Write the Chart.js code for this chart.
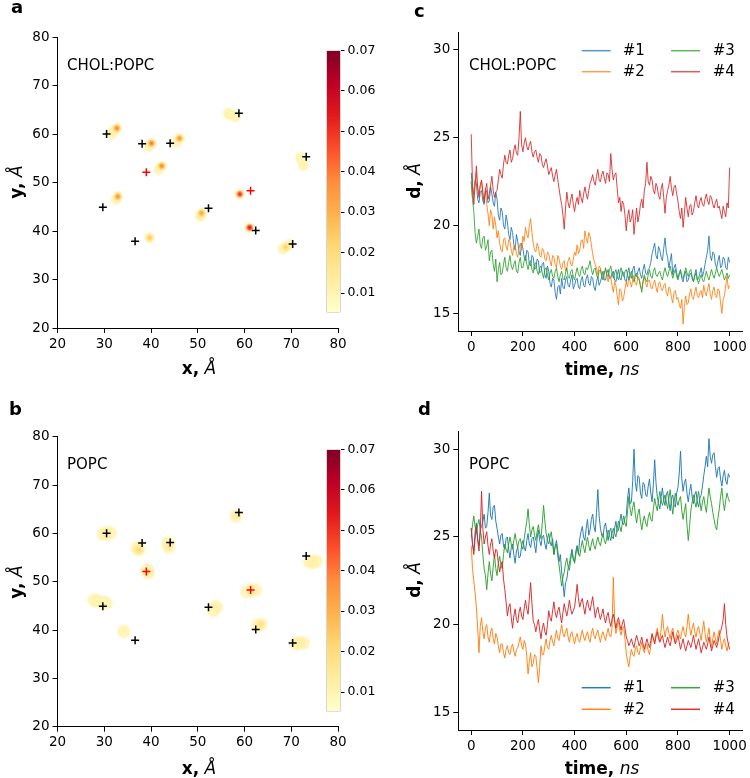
<!DOCTYPE html>
<html><head><meta charset="utf-8">
<script src="https://cdn.jsdelivr.net/npm/chart.js@4.4.0/dist/chart.umd.min.js"></script>
<style>
html,body{margin:0;padding:0;background:#fff;}
#wrap{position:relative;width:750px;height:778px;overflow:hidden;background:#fff;font-family:'DejaVu Sans',sans-serif;color:#000;}
canvas{position:absolute;}
.t{position:absolute;white-space:nowrap;line-height:1;}
.c{transform:translate(-50%,-50%);}
.r{transform:translate(-50%,-50%) rotate(-90deg);}
.lbl{font-size:18px;font-weight:bold;}
.ax{font-size:17px;}
.ax b{font-weight:bold;}
.ax i{font-style:italic;}
.in{font-size:15px;transform:translateY(-50%);}
</style></head><body>
<div id="wrap">
<canvas id="pa" width="375" height="390" style="left:0;top:0"></canvas>
<canvas id="ca" width="62" height="283" style="left:320px;top:40px"></canvas>
<canvas id="pb" width="375" height="388" style="left:0;top:390px"></canvas>
<canvas id="cb" width="62" height="283" style="left:320px;top:439px"></canvas>
<canvas id="pc" width="370" height="390" style="left:380px;top:0"></canvas>
<canvas id="pd" width="370" height="388" style="left:380px;top:390px"></canvas>

<div class="t lbl" style="left:11px;top:-2px">a</div>
<div class="t lbl" style="left:9px;top:400px">b</div>
<div class="t lbl" style="left:414px;top:2px">c</div>
<div class="t lbl" style="left:418px;top:400px">d</div>

<div class="t ax c" style="left:199px;top:368px"><b>x,</b> <i>Å</i></div>
<div class="t ax r" style="left:16px;top:182px"><b>y,</b> <i>Å</i></div>
<div class="t ax c" style="left:199px;top:768px"><b>x,</b> <i>Å</i></div>
<div class="t ax r" style="left:16px;top:582px"><b>y,</b> <i>Å</i></div>
<div class="t ax c" style="left:602px;top:369px"><b>time,</b> <i>ns</i></div>
<div class="t ax r" style="left:414px;top:181px"><b>d,</b> <i>Å</i></div>
<div class="t ax c" style="left:602px;top:768px"><b>time,</b> <i>ns</i></div>
<div class="t ax r" style="left:414px;top:580px"><b>d,</b> <i>Å</i></div>

<div class="t in" style="left:67px;top:65px">CHOL:POPC</div>
<div class="t in" style="left:67px;top:464px">POPC</div>
<div class="t in" style="left:469px;top:65px">CHOL:POPC</div>
<div class="t in" style="left:469px;top:464px">POPC</div>
</div>
<script>
// ---------------- data ----------------
const crossX = [30.5, 38.1, 44.1, 58.8, 73.2, 29.7, 52.3, 62.4, 70.3, 36.6];
const crossY = [60.0, 58.0, 58.1, 64.3, 55.3, 44.9, 44.7, 40.1, 37.3, 37.9];
const redCrossX = [39.0, 61.3];
const redCrossY = [52.1, 48.3];

// density samples, panel a (CHOL:POPC)
const densAx = [32.7,32.0,31.5,40.1,39.6,46.1,45.5,57.0,58.0,56.5,72.3,72.6,72.0,42.3,41.7,32.9,32.5,59.0,50.8,50.6,61.1,39.7,68.8,69.6,68.2];
const densAy = [61.2,60.5,60.0,58.1,57.4,59.1,58.4,64.0,63.6,64.2,54.6,53.5,55.2,53.4,52.7,47.1,46.5,47.6,43.7,43.0,40.7,38.6,36.7,37.2,36.3];
const densAv = [0.040,0.015,0.008,0.042,0.015,0.038,0.012,0.012,0.010,0.009,0.010,0.013,0.008,0.040,0.014,0.038,0.012,0.055,0.035,0.020,0.060,0.028,0.025,0.015,0.012];
// density samples, panel b (POPC)
const densBx = [30.5,31.3,29.8,37.4,37.0,43.8,43.6,58.2,74.6,75.3,73.9,39.4,39.2,28.4,29.5,30.4,27.8,34.2,54.0,53.4,61.5,62.3,60.5,63.5,62.8,71.8,72.6,71.0];
const densBy = [60.0,60.1,59.9,56.6,57.0,57.2,58.0,63.6,54.1,54.2,54.0,51.8,52.5,46.0,45.8,45.6,46.2,39.7,44.8,44.0,48.3,48.3,47.9,41.2,40.9,37.3,37.3,37.2];
const densBv = [0.015,0.012,0.010,0.022,0.012,0.018,0.012,0.016,0.014,0.010,0.010,0.018,0.012,0.012,0.010,0.009,0.008,0.012,0.014,0.010,0.016,0.012,0.009,0.020,0.012,0.014,0.011,0.010];

const xyTicks = [20,30,40,50,60,70,80];
const cbTicks = [0.01,0.02,0.03,0.04,0.05,0.06,0.07];
const cbMin = 0.0052, cbMax = 0.07;
const timeTicks = [0,200,400,600,800,1000];
const dTicks = [15,20,25,30];

// sample times (ns): whole tens and the midpoints between them
const times = [0,10,20,30,40,50,60,70,80,90,100,110,120,130,140,150,160,170,180,190,200,210,220,230,240,250,260,270,280,290,300,310,320,330,340,350,360,370,380,390,400,410,420,430,440,450,460,470,480,490,500,510,520,530,540,550,560,570,580,590,600,610,620,630,640,650,660,670,680,690,700,710,720,730,740,750,760,770,780,790,800,810,820,830,840,850,860,870,880,890,900,910,920,930,940,950,960,970,980,990,1000];
const timesMid = [5,15,25,35,45,55,65,75,85,95,105,115,125,135,145,155,165,175,185,195,205,215,225,235,245,255,265,275,285,295,305,315,325,335,345,355,365,375,385,395,405,415,425,435,445,455,465,475,485,495,505,515,525,535,545,555,565,575,585,595,605,615,625,635,645,655,665,675,685,695,705,715,725,735,745,755,765,775,785,795,805,815,825,835,845,855,865,875,885,895,905,915,925,935,945,955,965,975,985,995];

// panel c (CHOL:POPC) distances
const c1 = [23.0,21.8,22.4,21.3,22.0,21.2,21.9,21.4,21.8,21.1, 21.5,20.3,20.8,19.8,20.2,19.2,19.6,18.6,19.1,18.3, 18.7,18.0,18.5,17.7,18.2,17.6,18.0,17.4,17.9,17.0, 17.4,16.5,16.9,15.8,16.6,17.0,16.4,17.1,16.5,17.2, 16.6,17.0,16.4,17.1,16.5,17.2,16.6,17.0,16.3,17.1, 16.8,17.4,16.9,17.5,17.0,17.4,16.8,17.5,16.9,17.3, 16.8,17.6,17.0,17.7,17.1,17.6,17.0,17.8,17.2,17.6, 18.4,19.0,18.1,18.6,18.0,19.3,18.2,18.0,17.2,17.8, 17.0,17.5,16.8,17.4,16.9,17.3,16.8,17.5,17.0,17.6, 17.4,18.2,19.4,18.0,18.4,17.6,18.3,17.7,18.1,17.5, 17.9];
const c1m = [22.0,22.6,21.5,21.9,21.4,22.1,21.3,22.2,21.3,21.9, 20.6,21.0,20.0,20.6,19.5,19.9,18.9,19.5,18.5,19.0, 18.2,18.6,17.8,18.3,17.5,18.1,17.3,17.8,17.2,17.7, 16.7,17.0,16.2,16.5,16.1,16.5,16.9,16.6,16.9,16.4, 16.9,16.5,16.9,16.6,17.0,16.7,17.1,16.5,16.8,16.6, 17.1,16.9,17.3,17.0,17.3,16.9,17.2,17.0,17.4,16.9, 17.3,17.1,17.5,17.2,17.4,17.2,17.5,17.3,17.5,17.9, 18.7,18.3,18.8,18.2,18.7,18.5,17.6,18.4,17.6,17.3, 17.3,17.0,17.2,16.8,17.2,17.0,17.2,16.9,17.3,17.1, 17.8,18.6,18.3,18.5,17.8,18.0,17.6,18.2,17.6,18.2];
const c2 = [22.5,22.0,23.0,21.8,22.5,21.5,21.2,20.0,20.6,20.5, 19.3,19.0,18.5,19.3,18.6,19.1,18.3,18.9,18.2,19.0, 19.4,19.9,19.3,20.4,19.0,18.5,18.8,18.2,18.6,18.0, 18.4,17.7,18.2,17.6,18.1,17.5,18.0,17.6,18.2,17.7, 18.5,18.9,18.6,19.2,19.7,19.0,19.4,18.4,17.8,17.2, 17.6,17.0,17.5,16.8,17.0,16.2,16.6,15.5,16.3,15.9, 16.8,17.1,16.5,17.2,16.6,17.0,16.4,17.1,16.5,16.9, 16.4,16.9,16.2,16.8,16.3,16.7,16.0,16.4,15.6,16.3, 15.9,15.3,14.4,16.0,15.6,16.4,15.8,16.5,15.9,16.3, 16.6,16.0,16.7,15.8,16.5,15.9,16.3,15.0,16.0,17.1, 16.6];
const c2m = [21.6,22.4,22.2,22.3,21.7,22.0,20.7,20.9,19.8,20.0, 19.7,18.6,19.2,18.8,19.2,18.6,18.8,18.4,18.7,18.6, 19.1,19.5,20.0,19.6,18.6,19.0,18.3,18.7,18.1,18.5, 18.0,18.3,17.8,18.3,17.7,17.9,17.4,18.0,17.8,18.1, 18.3,18.4,19.1,18.7,19.3,19.6,18.9,18.0,17.6,17.7, 17.2,17.3,17.1,17.2,16.6,16.8,16.0,16.4,15.7,16.4, 16.5,16.8,16.9,16.7,17.1,16.5,16.8,16.7,16.9,16.5, 16.7,16.5,16.7,16.4,16.6,16.2,16.5,15.9,16.2,15.8, 15.5,15.8,15.4,15.5,16.1,15.9,16.2,16.0,16.2,15.9, 16.2,16.4,16.1,16.3,16.0,16.4,15.6,15.8,16.6,16.4];
const c3 = [22.5,20.8,19.0,19.8,18.7,19.4,18.8,18.0,18.6,17.4, 16.8,17.9,17.3,18.2,17.4,18.3,17.5,18.0,17.3,18.2, 17.6,18.3,17.5,18.0,17.3,17.9,17.2,17.7,17.0,17.6, 16.9,17.5,17.0,17.6,16.8,17.4,16.9,17.6,17.0,17.5, 16.9,17.6,17.1,17.7,17.2,17.5,18.0,17.2,17.6,17.0, 17.5,16.9,17.6,17.1,17.7,17.0,17.5,16.9,17.6,17.1, 17.5,16.9,17.4,16.8,17.3,16.9,16.2,17.2,16.8,17.5, 17.0,17.6,17.1,17.4,16.9,17.6,17.1,17.7,17.0,17.5, 16.9,17.4,17.0,17.6,17.1,17.5,16.8,17.3,16.7,17.2, 16.8,17.4,16.9,17.5,17.0,17.6,17.1,17.5,16.9,17.3, 17.2];
const c3m = [21.5,19.6,19.4,18.9,19.3,18.6,19.2,18.5,17.8,18.1, 17.5,17.2,17.8,17.6,17.9,17.7,17.8,17.4,17.9,17.6, 18.0,17.8,17.9,17.5,17.8,17.4,17.6,17.3,17.5,17.2, 17.3,17.1,17.4,17.1,17.2,17.0,17.3,17.1,17.4,17.1, 17.3,17.2,17.5,17.3,17.6,17.7,17.5,17.5,17.2,17.4, 17.1,17.3,17.2,17.5,17.3,17.3,17.1,17.3,17.3,17.4, 17.2,17.2,17.0,17.1,17.0,16.6,16.8,16.9,17.2,17.1, 17.4,17.2,17.3,17.1,17.3,17.3,17.4,17.3,17.3,17.1, 17.2,17.1,17.3,17.3,17.4,17.1,17.1,16.9,17.0,16.9, 17.1,17.1,17.2,17.2,17.3,17.3,17.3,17.2,17.1,17.0];
const c4 = [25.2,21.2,23.4,21.6,22.6,21.3,22.4,21.8,22.8,21.6, 22.0,23.2,22.7,24.0,23.5,24.3,23.8,24.6,24.0,26.5, 24.2,25.0,24.3,24.8,23.9,24.3,23.6,24.0,23.3,23.8, 22.9,23.3,22.5,23.2,22.1,21.2,19.8,21.9,21.0,21.8, 20.8,21.6,22.0,21.3,22.2,21.5,22.4,22.9,22.3,23.2, 22.5,23.1,22.4,22.9,24.1,22.6,23.0,21.3,20.8,21.2, 19.7,20.9,20.4,19.5,21.0,20.6,21.5,22.0,23.6,22.3, 22.6,21.8,22.2,21.5,22.4,20.7,22.0,22.8,21.7,22.3, 21.4,20.4,19.9,21.6,20.5,21.2,20.8,21.7,21.0,21.6, 21.1,21.8,21.2,21.6,21.0,21.5,21.1,20.4,20.8,21.3, 23.3];
const c4m = [22.4,22.3,22.1,22.3,21.9,22.0,21.5,22.3,22.0,21.9, 22.6,22.9,23.5,23.6,24.0,23.6,24.3,24.1,25.0,24.6, 24.7,24.5,24.6,24.2,24.2,23.9,24.1,23.5,23.6,23.4, 23.1,22.8,22.9,22.6,21.6,20.6,21.0,21.3,21.5,21.2, 21.3,21.2,21.6,21.8,21.8,22.0,22.6,22.5,22.8,22.6, 22.9,22.7,23.0,22.5,23.2,22.9,22.1,21.6,21.4,20.6, 20.5,20.2,20.9,20.3,20.2,21.2,21.0,22.4,22.5,22.8, 22.0,22.4,21.7,22.1,21.6,21.6,22.3,22.1,22.2,21.8, 20.8,21.0,20.7,21.0,21.1,20.6,21.3,21.2,21.4,21.2, 21.5,21.4,21.7,21.2,21.3,21.0,20.7,21.1,20.5,21.0];

// panel d (POPC) distances
const d1 = [25.5,24.2,25.8,24.5,25.6,26.3,25.6,27.5,26.0,26.8, 25.5,24.6,25.2,24.3,25.0,23.8,24.6,23.5,24.4,23.9, 24.8,24.2,25.2,24.4,25.0,24.1,25.4,24.5,25.1,24.3, 25.2,24.5,24.0,24.8,23.6,23.0,21.6,22.6,23.5,24.3, 23.6,24.5,24.9,25.6,24.8,26.0,25.4,26.3,25.3,27.7, 25.5,25.0,25.8,24.8,25.5,24.9,25.9,25.4,26.3,25.7, 26.2,27.8,27.0,30.0,27.6,28.4,27.2,28.0,27.3,28.3, 27.0,29.4,27.3,26.6,27.8,26.8,27.6,26.5,27.4,26.7, 27.8,29.9,27.6,28.3,27.0,28.0,26.9,27.6,26.7,27.4, 28.5,29.6,30.6,29.2,29.8,28.4,29.0,27.9,28.8,28.0, 28.4];
const d1m = [24.6,25.3,24.9,25.4,25.9,25.5,26.4,26.2,26.7,25.9, 25.0,25.1,24.5,24.9,24.3,24.4,24.0,24.2,23.8,24.5, 24.4,24.8,24.6,24.9,24.6,24.9,24.8,25.0,24.6,24.9, 24.7,24.9,24.5,24.2,24.0,22.4,22.4,23.2,23.9,23.7, 24.2,24.0,25.3,25.0,25.5,25.1,26.0,25.6,26.4,26.2, 25.1,25.6,25.2,25.3,25.0,25.5,25.3,25.9,25.8,26.1, 27.2,26.9,28.2,28.1,28.5,27.5,28.1,27.4,27.9,27.5, 28.0,28.1,26.9,27.3,27.1,27.4,27.0,27.2,26.8,27.5, 28.6,28.3,28.1,27.5,27.6,27.3,27.4,27.0,27.2,27.9, 29.0,29.0,29.6,29.7,29.0,28.9,28.3,28.5,28.2,28.6];
const d2 = [24.5,22.5,21.0,18.4,20.4,19.2,20.0,19.0,19.8,18.9, 19.3,18.4,18.9,18.1,18.8,18.3,18.9,18.2,18.7,19.3, 18.6,18.9,17.2,18.4,17.8,18.2,16.7,18.8,18.3,19.2, 18.6,19.4,18.8,19.7,19.1,20.0,19.3,19.8,19.0,19.6, 18.9,19.5,19.0,19.7,19.1,19.6,19.0,19.8,19.2,19.7, 19.0,19.6,19.1,19.8,19.3,22.7,19.5,20.2,19.4,19.9, 18.4,17.6,18.6,18.2,18.8,18.3,19.0,18.4,18.9,18.3, 19.4,19.0,19.8,19.1,20.6,19.3,19.9,19.2,19.8,19.0, 19.7,19.2,19.9,19.3,20.6,19.4,20.1,19.3,19.9,19.1, 20.2,19.0,19.8,18.7,19.6,18.9,19.7,18.6,19.2,18.5, 19.0];
const d2m = [23.2,21.8,19.8,19.9,19.6,19.8,19.3,19.6,19.2,19.5, 18.8,18.9,18.4,18.6,18.4,18.7,18.5,18.6,19.0,18.8, 19.1,18.2,17.9,17.6,18.3,17.5,17.6,18.3,18.8,18.7, 19.1,19.0,19.3,19.2,19.6,19.5,19.6,19.3,19.5,19.2, 19.3,19.1,19.4,19.3,19.4,19.2,19.5,19.4,19.5,19.3, 19.4,19.3,19.5,19.4,19.8,20.3,19.9,19.7,19.8,19.2, 17.9,18.2,18.3,18.6,18.4,18.7,18.6,18.8,18.5,18.8, 19.2,19.5,19.4,19.7,19.8,19.7,19.5,19.6,19.3,19.5, 19.4,19.6,19.5,19.9,19.9,19.8,19.6,19.7,19.5,19.7, 19.5,19.4,19.2,19.2,19.2,19.4,19.1,19.0,18.8,18.9];
const d3 = [25.0,26.2,25.2,26.0,25.0,23.2,22.0,23.6,22.5,24.0, 22.8,23.9,23.2,24.6,24.1,25.0,24.3,25.2,24.4,24.9, 24.3,25.4,26.6,25.0,25.6,24.8,25.7,24.9,26.8,25.2, 24.6,25.3,24.0,24.6,23.4,22.2,23.0,23.8,23.1,24.2, 23.5,24.5,23.9,24.8,24.1,25.0,24.2,24.9,24.3,25.0, 24.5,25.2,24.6,25.4,24.8,25.5,25.0,25.9,25.3,26.2, 25.6,27.3,26.2,27.0,25.8,26.6,25.4,26.2,25.6,26.4, 25.9,27.2,26.5,27.6,26.8,27.4,26.6,27.7,26.3,27.5, 26.8,27.3,26.0,26.9,24.8,26.5,27.4,26.7,27.6,26.5, 27.3,26.4,27.8,26.9,26.0,25.4,26.6,27.8,26.5,27.5, 27.0];
const d3m = [25.7,25.6,25.7,25.4,24.0,22.8,22.9,22.9,23.3,23.2, 23.5,23.4,24.0,24.3,24.6,24.6,24.8,24.7,24.8,24.5, 24.9,25.9,25.7,25.4,25.1,25.3,25.2,25.8,25.9,24.8, 25.0,24.6,24.4,23.9,22.8,22.7,23.5,23.3,23.7,23.8, 24.0,24.1,24.4,24.4,24.6,24.5,24.6,24.5,24.7,24.7, 24.9,24.8,25.0,25.1,25.2,25.2,25.5,25.6,25.8,25.8, 26.5,26.6,26.7,26.3,26.3,25.9,25.9,25.8,26.1,26.0, 26.6,26.8,27.1,27.1,27.1,27.0,27.2,26.9,27.0,27.1, 27.1,26.5,26.5,25.7,25.6,27.0,27.0,27.2,27.0,27.0, 26.8,27.1,27.3,26.4,25.6,26.1,27.3,27.0,27.1,27.2];
const d4 = [25.5,24.0,25.6,24.2,27.6,24.6,25.3,24.0,24.9,23.8, 24.2,23.0,23.6,22.0,20.5,21.2,19.8,20.9,20.1,21.0, 20.3,21.4,20.6,22.4,20.2,19.6,20.3,19.2,20.1,19.4, 20.8,20.2,21.3,20.4,21.0,20.1,21.2,20.5,21.4,20.6, 21.0,22.3,21.0,21.5,20.6,21.4,20.8,21.6,20.4,21.0, 20.3,20.9,20.1,20.7,19.9,20.6,19.8,20.4,19.7,20.3, 19.3,18.8,19.2,18.7,19.4,18.8,19.3,18.6,19.2,18.7, 19.5,18.9,19.6,19.0,19.4,18.7,19.3,18.8,19.6,18.9, 19.4,18.6,19.2,18.5,19.1,18.7,19.4,18.6,19.2,18.4, 19.0,18.6,19.3,18.5,19.1,18.7,19.4,19.9,21.2,19.3, 18.6];
const d4m = [24.6,24.9,24.8,25.3,25.5,25.0,24.5,24.6,24.2,24.3, 23.5,23.4,22.6,21.3,21.0,20.4,20.5,20.3,20.7,20.5, 20.9,20.9,21.5,21.2,20.0,20.0,19.7,19.8,19.6,20.0, 20.4,20.8,20.7,20.8,20.5,20.7,20.8,20.9,20.9,20.8, 21.6,21.5,21.3,21.0,21.1,21.0,21.2,21.0,20.8,20.6, 20.6,20.4,20.5,20.2,20.3,20.2,20.2,20.0,20.1,19.8, 19.1,19.0,18.9,19.1,19.1,19.0,18.9,18.9,18.9,19.1, 19.2,19.3,19.2,19.2,19.0,19.0,19.0,19.2,19.2,19.1, 19.0,18.9,18.8,18.8,18.9,19.0,19.0,18.9,18.8,18.7, 18.8,18.9,18.9,18.8,18.9,19.0,19.6,20.3,20.0,18.9];

const seriesNames = ['#1','#2','#3','#4'];
const seriesColors = ['#1f77b4','#ff7f0e','#2ca02c','#d62728'];

// ---------------- helpers ----------------
Chart.defaults.font.family = "'DejaVu Sans', sans-serif";
Chart.defaults.color = '#000';

const YlOrRd = [[255,255,204],[255,237,160],[254,217,118],[254,178,76],[253,141,60],[252,78,42],[227,26,28],[189,0,38],[128,0,38]];
function cmap(v, a){
  let t = (v - cbMin)/(cbMax - cbMin); t = Math.max(0, Math.min(1, t));
  const p = t*(YlOrRd.length-1), i = Math.min(Math.floor(p), YlOrRd.length-2), f = p - i;
  const c = YlOrRd[i].map((x,k)=>Math.round(x + (YlOrRd[i+1][k]-x)*f));
  return `rgba(${c[0]},${c[1]},${c[2]},${a===undefined?1:a})`;
}

function axis(pos, min, max, ticks, size){
  return {
    type:'linear', position:pos, min:min, max:max,
    afterBuildTicks: s => { s.ticks = ticks.map(v=>({value:v})); },
    afterFit: s => { if (pos==='left'||pos==='right') s.width = size; else s.height = size; },
    grid:{drawOnChartArea:false, drawTicks:true, tickLength:5, color:'#000', lineWidth:1},
    border:{display:true, color:'#000', width:1},
    ticks:{color:'#000', font:{size:13.5}, padding:3, maxRotation:0, autoSkip:false, callback: v => String(v)}
  };
}

function heatChart(id, dx, dy, dv, padTop, xH, R){
  const idx = dv.map((v,i)=>i).sort((a,b)=>dv[a]-dv[b]);
  const dens = idx.map(i=>({x:dx[i], y:dy[i], v:dv[i]}));
  new Chart(document.getElementById(id), {
    type:'scatter',
    data:{datasets:[
      {data:dens, pointRadius:R, pointBorderWidth:0, pointHoverRadius:R, order:3,
       pointBackgroundColor: c => {
         const ch = c.chart; const r = c.raw;
         if (!ch.chartArea || !r) return 'rgba(0,0,0,0)';
         const px = ch.scales.x.getPixelForValue(r.x), py = ch.scales.y.getPixelForValue(r.y);
         const g = ch.ctx.createRadialGradient(px,py,0,px,py,R);
         g.addColorStop(0, cmap(r.v,1));
         g.addColorStop(0.3, cmap(r.v*0.75,0.95));
         g.addColorStop(0.6, cmap(0.013,0.7));
         g.addColorStop(1, 'rgba(255,250,200,0)');
         return g;
       }},
      {data:crossX.map((x,i)=>({x:x,y:crossY[i]})), pointStyle:'cross', pointRadius:4, borderColor:'#000', pointBorderColor:'#000', pointBorderWidth:1.5, order:2},
      {data:redCrossX.map((x,i)=>({x:x,y:redCrossY[i]})), pointStyle:'cross', pointRadius:4, borderColor:'#ff0000', pointBorderColor:'#ff0000', pointBorderWidth:1.5, order:1}
    ]},
    options:{
      responsive:false, animation:false, events:[], devicePixelRatio:1,
      layout:{padding:{left:0, top:padTop, right:37, bottom:0}},
      plugins:{legend:{display:false}, tooltip:{enabled:false}},
      scales:{
        x: axis('bottom', 20, 80, xyTicks, xH),
        y: axis('left', 20, 80, xyTicks, 57.5)
      }
    }
  });
}

function colorbar(id){
  new Chart(document.getElementById(id), {
    type:'bar',
    data:{labels:[''], datasets:[{data:[[cbMin, cbMax]], borderSkipped:false, borderWidth:0.8, borderColor:'#8a8a8a',
      barPercentage:1, categoryPercentage:1,
      backgroundColor: c => {
        const a = c.chart.chartArea; if (!a) return '#fff';
        const g = c.chart.ctx.createLinearGradient(0, a.bottom, 0, a.top);
        YlOrRd.forEach((col,i)=>g.addColorStop(i/(YlOrRd.length-1), `rgb(${col[0]},${col[1]},${col[2]})`));
        return g;
      }}]},
    options:{
      responsive:false, animation:false, events:[], devicePixelRatio:1,
      layout:{padding:{left:6.5, top:5, right:0, bottom:0}},
      plugins:{legend:{display:false}, tooltip:{enabled:false}},
      scales:{
        x:{display:false},
        y:{type:'linear', position:'right', min:cbMin, max:cbMax,
           afterBuildTicks: s => { s.ticks = cbTicks.map(v=>({value:v})); },
           afterFit: s => { s.width = 41.5; },
           grid:{drawOnChartArea:false, drawTicks:true, tickLength:4, color:'#000', lineWidth:1},
           border:{display:false},
           ticks:{color:'#000', font:{size:12.5}, padding:3, autoSkip:false, callback: v => v.toFixed(2)}}
      }
    }
  });
}

function merge(main, mid){
  const pts = times.map((t,k)=>({x:t, y:main[k]})).concat(timesMid.map((t,k)=>({x:t, y:mid[k]})));
  return pts.sort((a,b)=>a.x-b.x);
}

// legend drawn on the chart canvas: rows at given canvas y, two columns
function legendPlugin(rowY, alpha){
  return {
    id:'mplLegend',
    afterDraw(chart){
      const ctx = chart.ctx;
      const cols = [[201.7, 242.7],[291, 332.7]];
      ctx.save();
      ctx.font = "15px 'DejaVu Sans', sans-serif";
      ctx.textBaseline = 'middle';
      ctx.textAlign = 'left';
      chart.data.datasets.forEach((ds,i)=>{
        const col = cols[Math.floor(i/2)], y = rowY[i%2];
        ctx.globalAlpha = alpha;
        ctx.strokeStyle = seriesColors[i];
        ctx.lineWidth = 1.5;
        ctx.beginPath(); ctx.moveTo(col[0], y); ctx.lineTo(col[0]+29, y); ctx.stroke();
        ctx.globalAlpha = 1;
        ctx.fillStyle = '#000';
        ctx.fillText(ds.label, col[1], y+0.5);
      });
      ctx.restore();
    }
  };
}

function lineChart(id, series, padTop, xH, alpha, rowY){
  new Chart(document.getElementById(id), {
    type:'line',
    data:{datasets: series.map((s,i)=>({
      label: seriesNames[i],
      data: merge(s[0], s[1]),
      borderColor: seriesColors[i] + alpha, borderWidth:1, pointRadius:0, tension:0, fill:false, order:4-i
    }))},
    options:{
      responsive:false, animation:false, events:[], devicePixelRatio:1,
      layout:{padding:{left:0, top:padTop, right:4.6, bottom:0}},
      plugins:{legend:{display:false}, tooltip:{enabled:false}},
      scales:{
        x: axis('bottom', -50, 1050, timeTicks, xH),
        y: axis('left', 14, 31, dTicks, 78.3)
      }
    },
    plugins:[legendPlugin(rowY, alpha==='dd'?0.75:0.95)]
  });
}

heatChart('pa', densAx, densAy, densAv, 37, 62, 7);
heatChart('pb', densBx, densBy, densBv, 46.7, 51.3, 8.5);
colorbar('ca');
colorbar('cb');
lineChart('pc', [[c1,c1m],[c2,c2m],[c3,c3m],[c4,c4m]], 32.3, 59, 'dd', [50.7, 71.7]);
lineChart('pd', [[d1,d1m],[d2,d2m],[d3,d3m],[d4,d4m]], 41.7, 48, 'ee', [297.7, 319.3]);
</script>
</body></html>
